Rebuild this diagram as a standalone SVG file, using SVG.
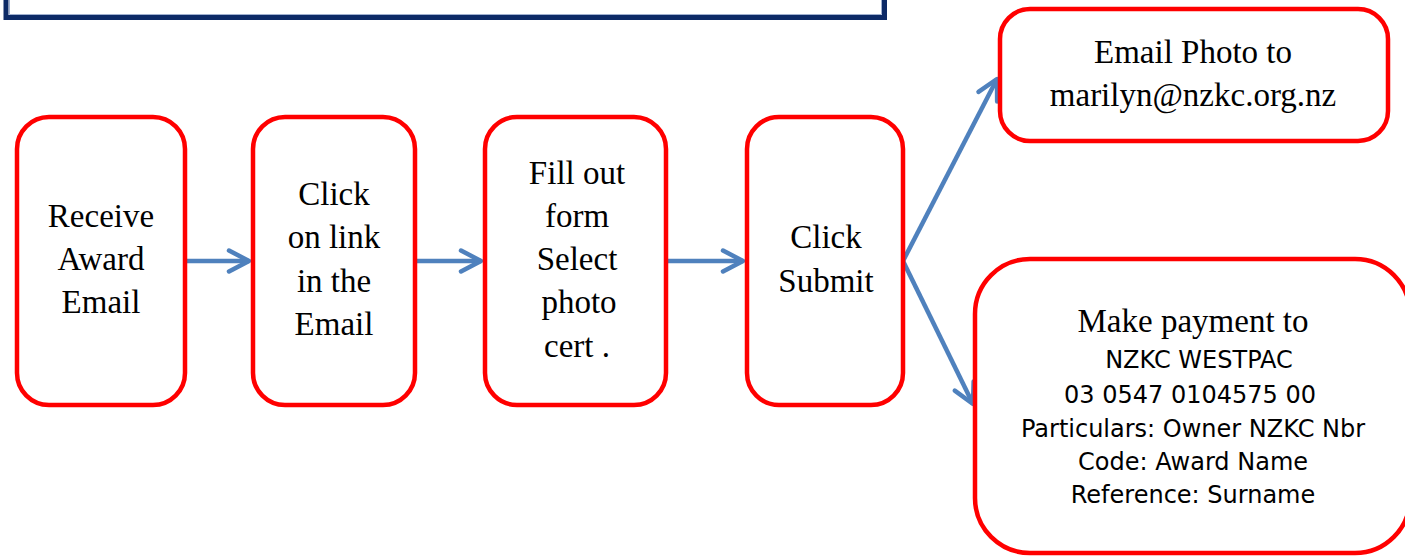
<svg xmlns="http://www.w3.org/2000/svg" width="1405" height="557" viewBox="0 0 1405 557">
<style>
.box{fill:#ffffff;stroke:#ff0000;stroke-width:4.5}
.serif{font-family:"Liberation Serif","Times New Roman",serif;font-size:33px;fill:#000;text-anchor:middle}
.sans{font-family:"DejaVu Sans","Verdana",sans-serif;font-size:24px;fill:#000;text-anchor:middle}
.conn{fill:none;stroke:#4f81bd;stroke-width:4.5}
</style>
<defs>
<marker id="chev" markerUnits="userSpaceOnUse" markerWidth="40" markerHeight="40" viewBox="-30 -20 40 40" refX="0" refY="0" orient="auto" overflow="visible">
<path d="M -20 -10.5 L 0 0 L -20 10.5" fill="none" stroke="#4f81bd" stroke-width="4.5" stroke-linecap="round" stroke-linejoin="round"/>
</marker>
</defs>
<rect width="1405" height="557" fill="#ffffff"/>
<g id="banner">
<path d="M 6 -5 L 6 17.5 L 884.5 17.5 L 884.5 -5" fill="#ffffff" stroke="#0c2a66" stroke-width="5"/>
<path d="M 9.5 -5 L 9.5 14.5 L 881.5 14.5 L 881.5 -5" fill="none" stroke="#9fb0cf" stroke-width="1"/>
</g>
<g id="connectors">
<line class="conn" x1="187" y1="261" x2="249" y2="261" marker-end="url(#chev)"/>
<line class="conn" x1="417" y1="261" x2="481" y2="261" marker-end="url(#chev)"/>
<line class="conn" x1="668" y1="261" x2="743" y2="261" marker-end="url(#chev)"/>
<line class="conn" x1="903" y1="261" x2="997" y2="79" marker-end="url(#chev)"/>
<line class="conn" x1="903" y1="261" x2="973" y2="404" marker-end="url(#chev)"/>
</g>
<g id="node1">
<rect class="box" x="17" y="117" width="168" height="288" rx="32" ry="32"/>
<text class="serif" x="101" y="227">Receive</text>
<text class="serif" x="101" y="270">Award</text>
<text class="serif" x="101" y="313">Email</text>
</g>
<g id="node2">
<rect class="box" x="253" y="117" width="162" height="288" rx="32" ry="32"/>
<text class="serif" x="334" y="205">Click</text>
<text class="serif" x="334" y="248">on link</text>
<text class="serif" x="334" y="292">in the</text>
<text class="serif" x="334" y="335">Email</text>
</g>
<g id="node3">
<rect class="box" x="485" y="117" width="181" height="288" rx="32" ry="32"/>
<text class="serif" x="577" y="184">Fill out</text>
<text class="serif" x="577" y="227">form</text>
<text class="serif" x="577" y="270">Select</text>
<text class="serif" x="579" y="313">photo</text>
<text class="serif" x="577" y="357">cert .</text>
</g>
<g id="node4">
<rect class="box" x="747" y="117" width="156" height="288" rx="32" ry="32"/>
<text class="serif" x="826" y="248">Click</text>
<text class="serif" x="826" y="292">Submit</text>
</g>
<g id="node5">
<rect class="box" x="1000" y="9" width="388" height="132" rx="30" ry="30"/>
<text class="serif" x="1193" y="63">Email Photo to</text>
<text class="serif" x="1193" y="106">marilyn@nzkc.org.nz</text>
</g>
<g id="node6">
<rect class="box" x="975" y="259" width="435" height="294" rx="55" ry="55"/>
<text class="serif" x="1193" y="332">Make payment to</text>
<text class="sans" x="1199" y="368">NZKC WESTPAC</text>
<text class="sans" x="1190" y="403">03 0547 0104575 00</text>
<text class="sans" x="1193" y="437">Particulars: Owner NZKC Nbr</text>
<text class="sans" x="1193" y="470">Code: Award Name</text>
<text class="sans" x="1193" y="503">Reference: Surname</text>
</g>
</svg>
